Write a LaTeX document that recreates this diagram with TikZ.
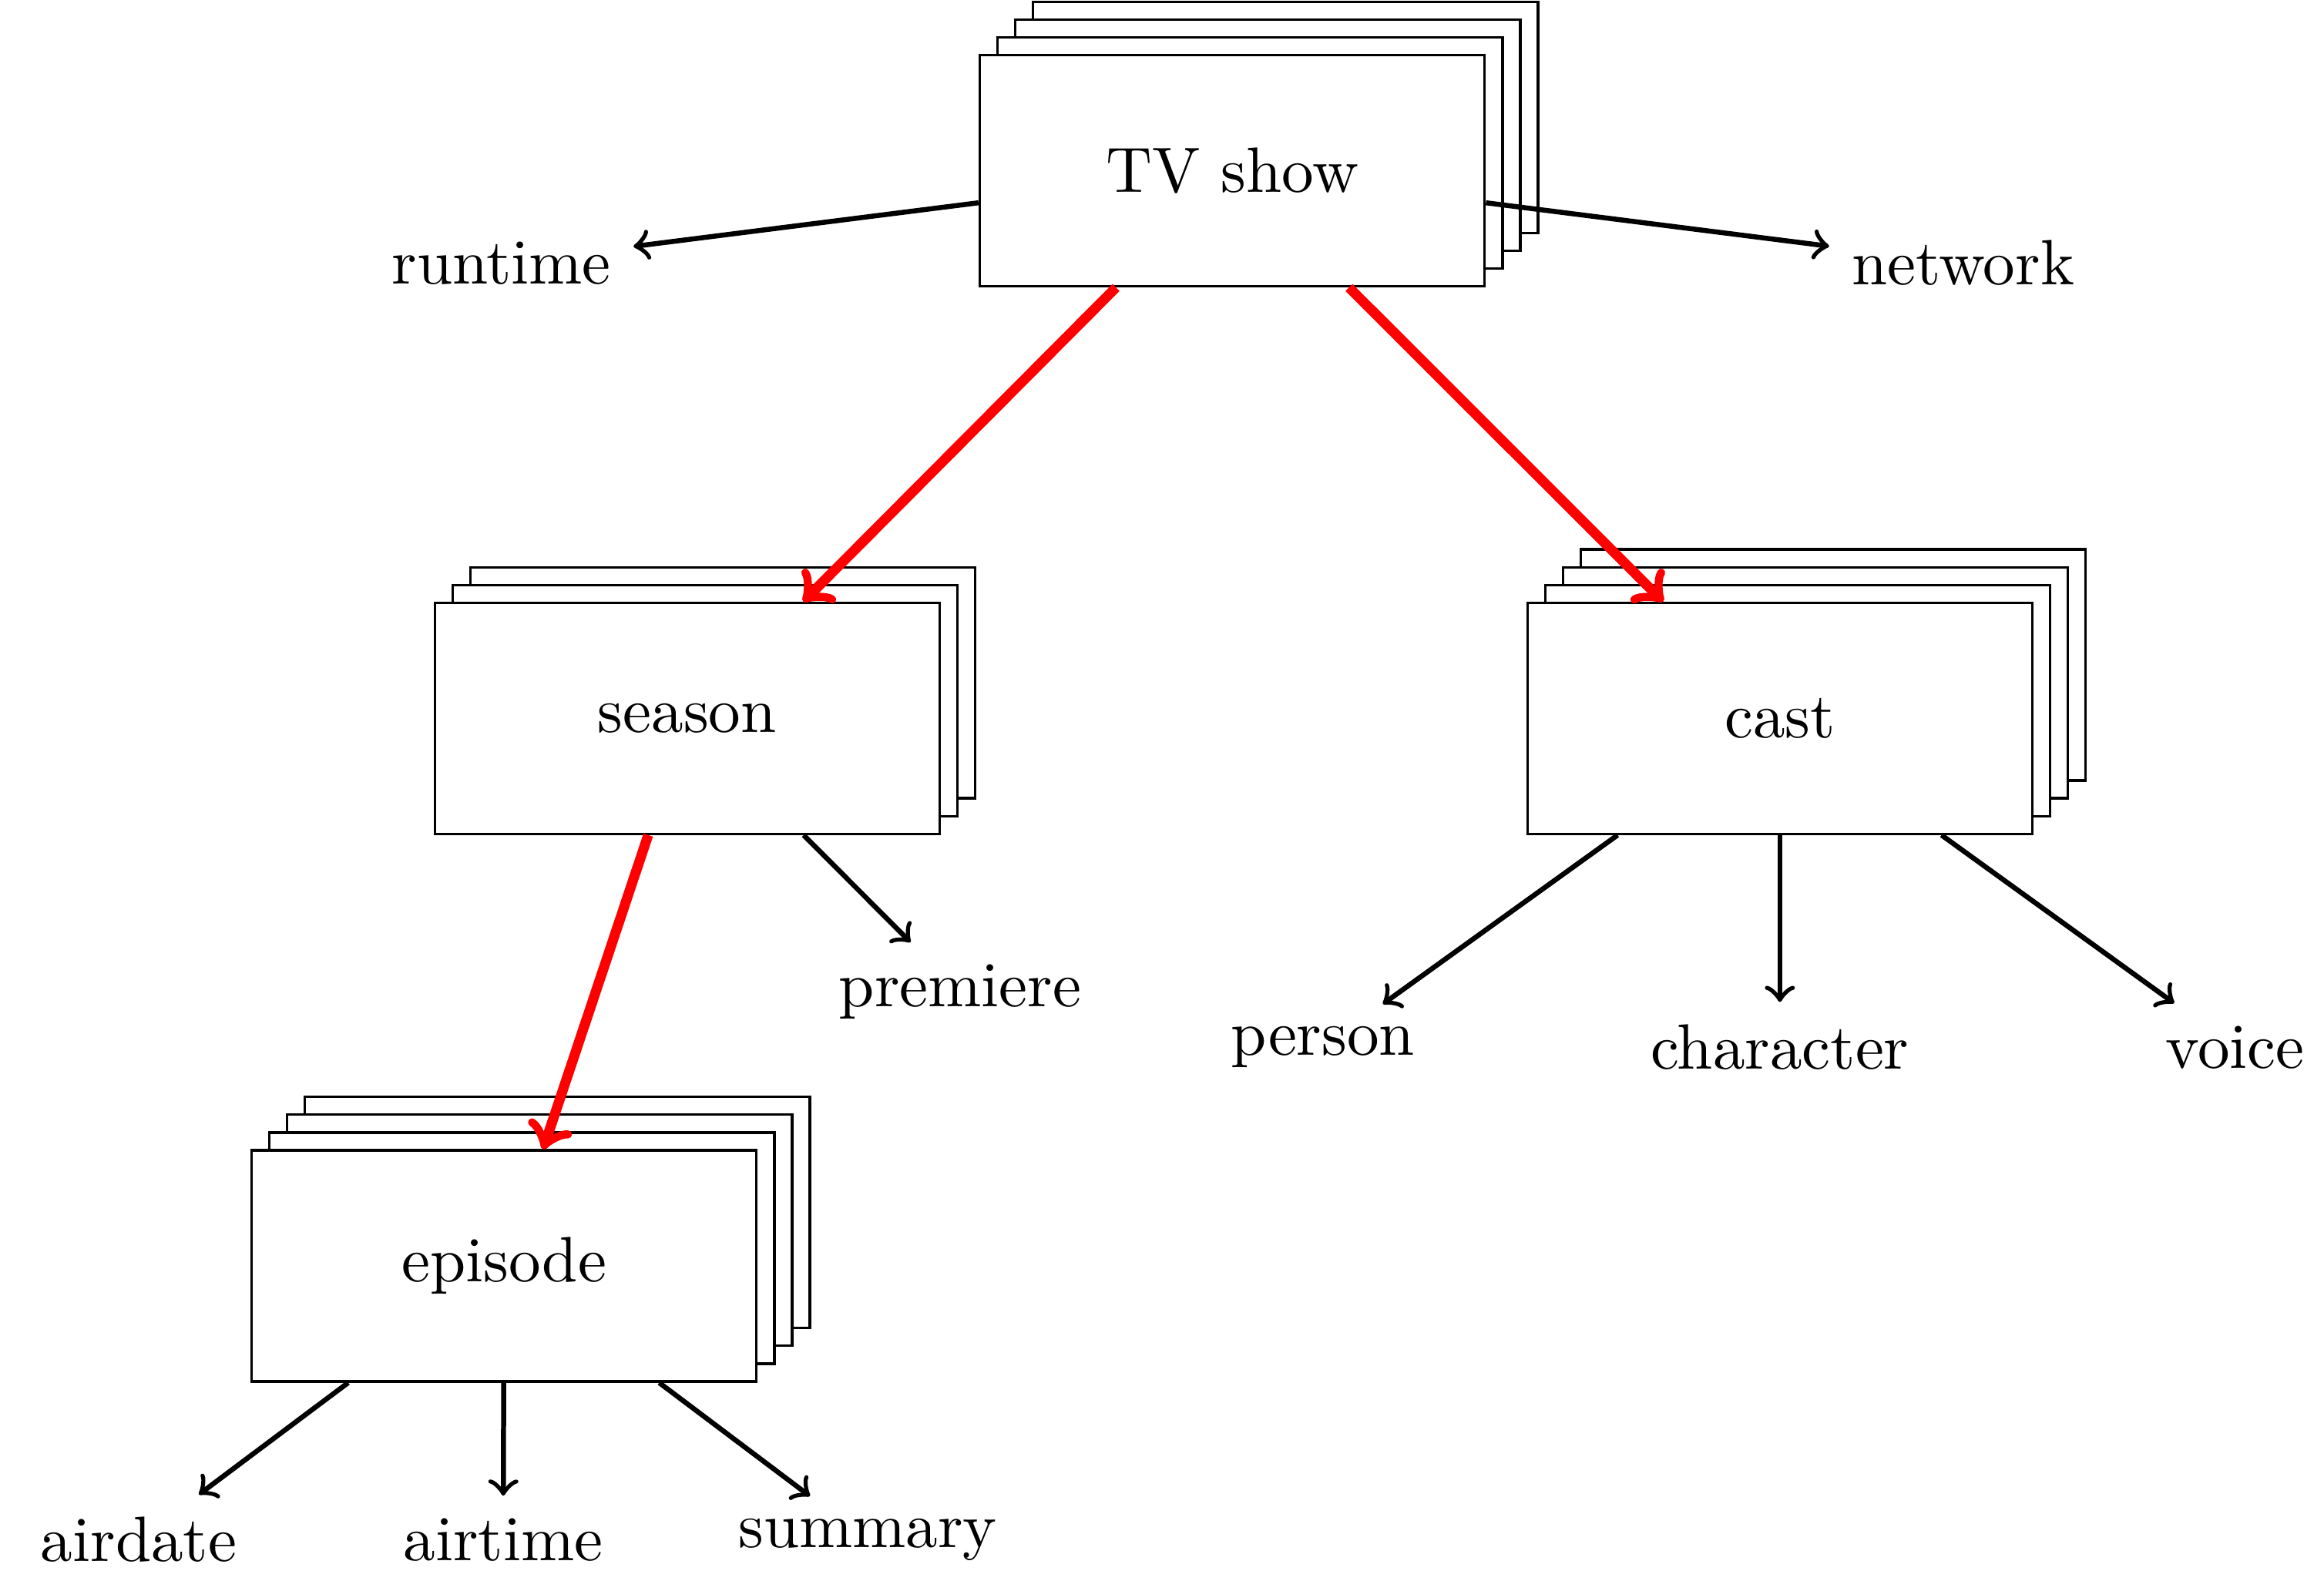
\documentclass[tikz,border=0pt]{standalone}
\usetikzlibrary{shadows}

\begin{document}
\begin{tikzpicture}
[entityBox/.style={draw,fill=white,minimum width=2.84cm,minimum height=1.3cm},%
  stackCopy/.style={copy shadow={shadow xshift=#1,shadow yshift=#1}},
  attrArrow/.style={->,thick},
  nestArrow/.style={->,red,ultra thick}]
\fontsize{10.25pt}{12pt}\selectfont
\useasboundingbox (-6.93,0.96) rectangle (6.14,-7.93);
% entities, each drawn as a stack of records
\node[entityBox,stackCopy=3mm,stackCopy=2mm,stackCopy=1mm] (tvShow) at (0,0) {TV show};
\node[entityBox,stackCopy=2mm,stackCopy=1mm] (season) at (-3.065,-3.08) {season};
\node[entityBox,stackCopy=3mm,stackCopy=2mm,stackCopy=1mm] (cast) at (3.08,-3.08) {cast};
\node[entityBox,stackCopy=3mm,stackCopy=2mm,stackCopy=1mm] (episode) at (-4.095,-6.16) {episode};
% attributes
\node (runtime) at (-4.11,-0.52) {runtime};
\node (network) at (4.11,-0.52) {network};
\node (premiere) at (-1.53,-4.62) {premiere};
\node (person) at (0.51,-4.93) {person};
\node (character) at (3.08,-4.93) {character};
\node (voice) at (5.64,-4.93) {voice};
\node (airdate) at (-6.15,-7.70) {airdate};
\node (airtime) at (-4.10,-7.70) {airtime};
\node (summary) at (-2.05,-7.70) {summary};
\path
\foreach \startNode/\endNode/\arrowKind in {
  tvShow/runtime/attrArrow, tvShow/network/attrArrow,
  tvShow/season/nestArrow, tvShow/cast/nestArrow,
  season/episode/nestArrow, season/premiere/attrArrow,
  cast/person/attrArrow, cast/character/attrArrow, cast/voice/attrArrow,
  episode/airdate/attrArrow, episode/airtime/attrArrow,
  episode/summary/attrArrow}
{
  (\startNode) edge[\arrowKind] (\endNode)
};
\end{tikzpicture}
\end{document}
